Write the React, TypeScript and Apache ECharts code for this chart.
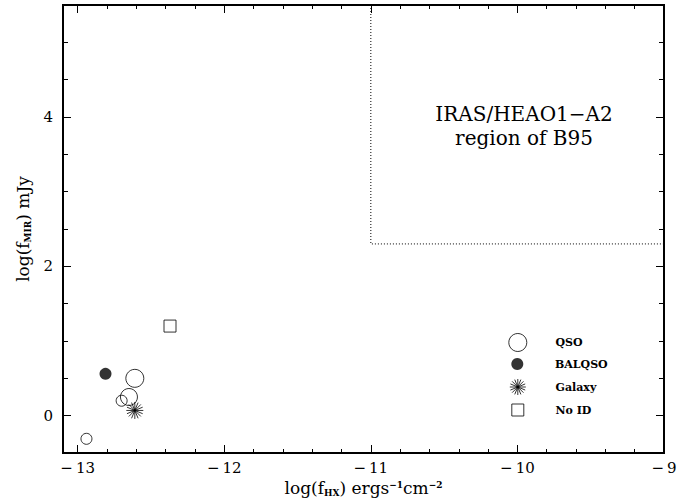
import React, { useEffect, useRef } from "react";
import * as echarts from "echarts";

// log(f_HX) [erg s^-1 cm^-2], log(f_MIR) [mJy]
const qsoPoints: number[][] = [
  [-12.94, -0.31],
  [-12.7, 0.2],
  [-12.65, 0.25],
  [-12.61, 0.5],
];
const qsoMarkerSize = [11, 11, 17, 18];
const balqsoPoints: number[][] = [[-12.81, 0.56]];
const galaxyPoints: number[][] = [[-12.61, 0.07]];
const noIdPoints: number[][] = [[-12.37, 1.2]];

// Corner of the IRAS/HEAO1-A2 region of B95
const b95Boundary: number[][] = [
  [-11, 5.5],
  [-11, 2.3],
  [-9, 2.3],
];

const xRange = [-13.1, -9];
const yRange = [-0.5, 5.5];
const xMajorTicks = [-13, -12, -11, -10, -9];
const xMinorTicks = [
  -12.8, -12.6, -12.4, -12.2, -11.8, -11.6, -11.4, -11.2, -10.8, -10.6, -10.4,
  -10.2, -9.8, -9.6, -9.4, -9.2,
];
const yMajorTicks = [0, 2, 4];
const yMinorTicks = [0.5, 1, 1.5, 2.5, 3, 3.5, 4.5, 5];

const legendNames = ["QSO", "BALQSO", "Galaxy", "No ID"];

const FONT = '"DejaVu Serif", serif';
const STAR =
  "path://M10,0L-10,0M9.239,3.827L-9.239,-3.827M7.071,7.071L-7.071,-7.071M3.827,9.239L-3.827,-9.239M0,10L0,-10M-3.827,9.239L3.827,-9.239M-7.071,7.071L7.071,-7.071M-9.239,3.827L9.239,-3.827";
const SQUARE = "path://M0,0L10,0L10,10L0,10Z";

const minus = (v: number) => (v < 0 ? "\u2212\u2009" + Math.abs(v) : String(v));

const richTitle = {
  a: { fontFamily: FONT, fontSize: 17, color: "#000" },
  sub: { fontFamily: FONT, fontSize: 9, fontWeight: "bold", color: "#000", padding: [9, 0, 0, 0] },
  sup: { fontFamily: FONT, fontSize: 9, fontWeight: "bold", color: "#000", padding: [0, 0, 7, 0] },
};

function axisLayer(
  dim: "x" | "y",
  position: string,
  ticks: number[],
  len: number,
  labelled: boolean,
  extra: Record<string, unknown> = {}
) {
  const range = dim === "x" ? xRange : yRange;
  return {
    type: "value",
    min: range[0],
    max: range[1],
    position,
    axisLine: { show: false, onZero: false },
    axisTick: {
      show: true,
      inside: true,
      length: len,
      customValues: ticks,
      lineStyle: { color: "#000", width: 1 },
    },
    axisLabel: labelled
      ? {
          show: true,
          customValues: ticks,
          formatter: minus,
          color: "#000",
          fontFamily: FONT,
          fontSize: 15,
          margin: dim === "x" ? 7 : 10,
        }
      : { show: false },
    splitLine: { show: false },
    ...extra,
  };
}

const openStyle = { color: "rgba(0,0,0,0)", borderColor: "#000", borderWidth: 1 };

// Legend key: marker centre column and text column
const KEY_X = 517.3;
const KEY_TEXT_X = 555;
const legendRows = [
  { name: "QSO", icon: "circle", size: 18, center: 342, itemStyle: openStyle },
  { name: "BALQSO", icon: "circle", size: 12, center: 364, itemStyle: { color: "#000", borderWidth: 0 } },
  { name: "Galaxy", icon: STAR, size: 16, center: 386.5, itemStyle: openStyle },
  { name: "No ID", icon: SQUARE, size: 12, center: 409.5, itemStyle: openStyle },
];

export default function App() {
  const ref = useRef<HTMLDivElement>(null);

  useEffect(() => {
    if (!ref.current) return;
    const chart = echarts.init(ref.current, null, { renderer: "svg" });

    chart.setOption({
      animation: false,
      backgroundColor: "#fff",
      textStyle: { fontFamily: FONT, color: "#000" },
      grid: {
        left: 63,
        right: 35,
        top: 5,
        bottom: 49,
        show: true,
        borderColor: "#000",
        borderWidth: 2,
        backgroundColor: "rgba(0,0,0,0)",
        outerBoundsMode: "none",
      },
      xAxis: [
        axisLayer("x", "bottom", xMajorTicks, 8, true, {
          name: "{a|log(f}{sub|HX}{a|) ergs}{sup|\u22121}{a|cm}{sup|\u22122}",
          nameLocation: "middle",
          nameGap: 23,
          nameTextStyle: { rich: richTitle },
        }),
        axisLayer("x", "bottom", xMinorTicks, 4, false),
        axisLayer("x", "top", xMajorTicks, 8, false),
        axisLayer("x", "top", xMinorTicks, 4, false),
      ],
      yAxis: [
        axisLayer("y", "left", yMajorTicks, 8, true, {
          name: "{a|log(f}{sub|MIR}{a|) mJy}",
          nameLocation: "middle",
          nameGap: 31,
          nameTextStyle: { rich: richTitle },
        }),
        axisLayer("y", "left", yMinorTicks, 5, false),
        axisLayer("y", "right", yMajorTicks, 8, false),
        axisLayer("y", "right", yMinorTicks, 5, false),
      ],
      legend: legendRows.map((r) => ({
        data: [{ name: r.name, icon: r.icon, itemStyle: r.itemStyle }],
        left: KEY_X - r.size / 2,
        top: r.center - r.size / 2,
        orient: "vertical",
        padding: 0,
        itemWidth: 2 * (KEY_TEXT_X - 5 - KEY_X),
        itemHeight: r.size,
        symbolKeepAspect: true,
        selectedMode: false,
        textStyle: { fontFamily: FONT, fontSize: 11, fontWeight: "bold", color: "#000" },
      })),
      graphic: [
        {
          type: "text",
          x: 524,
          y: 126,
          silent: true,
          style: {
            text: "IRAS/HEAO1\u2212A2\nregion of B95",
            fill: "#000",
            fontFamily: FONT,
            fontSize: 20,
            lineHeight: 24,
            align: "center",
            verticalAlign: "middle",
          },
        },
      ],
      series: [
        {
          name: "B95 region",
          type: "line",
          data: b95Boundary,
          showSymbol: false,
          silent: true,
          lineStyle: { color: "#000", width: 1, type: [1, 2] },
          z: 1,
        },
        {
          name: legendNames[0],
          type: "scatter",
          symbol: "circle",
          data: qsoPoints.map((p, i) => ({ value: p, symbolSize: qsoMarkerSize[i] })),
          itemStyle: openStyle,
          z: 3,
        },
        {
          name: legendNames[1],
          type: "scatter",
          symbol: "circle",
          symbolSize: 12,
          data: balqsoPoints,
          itemStyle: { color: "#000" },
          z: 3,
        },
        {
          name: legendNames[2],
          type: "scatter",
          symbol: STAR,
          symbolSize: 17,
          data: galaxyPoints,
          itemStyle: openStyle,
          z: 3,
        },
        {
          name: legendNames[3],
          type: "scatter",
          symbol: "rect",
          symbolSize: 12,
          data: noIdPoints,
          itemStyle: openStyle,
          z: 3,
        },
      ],
    });

    return () => chart.dispose();
  }, []);

  return (
    <div
      ref={ref}
      style={{ position: "fixed", left: 0, top: 0, width: 699, height: 502 }}
    />
  );
}
